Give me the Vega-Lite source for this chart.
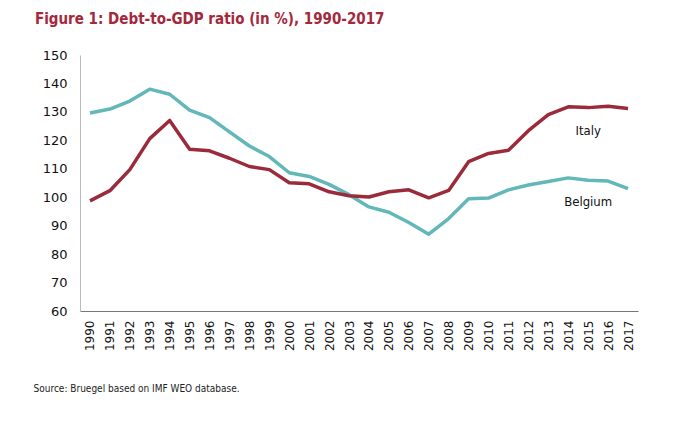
{
  "$schema": "https://vega.github.io/schema/vega-lite/v6.json",
  "autosize": "none",
  "width": 558,
  "height": 256,
  "padding": {"left": 80, "top": 55, "right": 37, "bottom": 131},
  "background": "white",
  "config": {"view": {"stroke": null}},
  "title": {
    "text": "Figure 1: Debt-to-GDP ratio (in %), 1990-2017",
    "anchor": "start",
    "frame": "group",
    "dx": -45,
    "offset": 22,
    "font": "DejaVu Sans Condensed",
    "fontSize": 15,
    "fontWeight": "bold",
    "color": "#a3283c"
  },
  "datasets": {
    "debt": [
      {"year": "1990", "country": "Belgium", "value": 129.6},
      {"year": "1991", "country": "Belgium", "value": 131.0},
      {"year": "1992", "country": "Belgium", "value": 133.8},
      {"year": "1993", "country": "Belgium", "value": 138.0},
      {"year": "1994", "country": "Belgium", "value": 136.2},
      {"year": "1995", "country": "Belgium", "value": 130.6},
      {"year": "1996", "country": "Belgium", "value": 128.0},
      {"year": "1997", "country": "Belgium", "value": 123.0},
      {"year": "1998", "country": "Belgium", "value": 118.0},
      {"year": "1999", "country": "Belgium", "value": 114.3},
      {"year": "2000", "country": "Belgium", "value": 108.6},
      {"year": "2001", "country": "Belgium", "value": 107.3},
      {"year": "2002", "country": "Belgium", "value": 104.5},
      {"year": "2003", "country": "Belgium", "value": 100.9},
      {"year": "2004", "country": "Belgium", "value": 96.6},
      {"year": "2005", "country": "Belgium", "value": 94.7},
      {"year": "2006", "country": "Belgium", "value": 91.1},
      {"year": "2007", "country": "Belgium", "value": 87.0},
      {"year": "2008", "country": "Belgium", "value": 92.5},
      {"year": "2009", "country": "Belgium", "value": 99.5},
      {"year": "2010", "country": "Belgium", "value": 99.7},
      {"year": "2011", "country": "Belgium", "value": 102.6},
      {"year": "2012", "country": "Belgium", "value": 104.3},
      {"year": "2013", "country": "Belgium", "value": 105.5},
      {"year": "2014", "country": "Belgium", "value": 106.8},
      {"year": "2015", "country": "Belgium", "value": 106.0},
      {"year": "2016", "country": "Belgium", "value": 105.7},
      {"year": "2017", "country": "Belgium", "value": 103.0},
      {"year": "1990", "country": "Italy", "value": 98.7},
      {"year": "1991", "country": "Italy", "value": 102.3},
      {"year": "1992", "country": "Italy", "value": 109.7},
      {"year": "1993", "country": "Italy", "value": 120.6},
      {"year": "1994", "country": "Italy", "value": 127.0},
      {"year": "1995", "country": "Italy", "value": 116.9},
      {"year": "1996", "country": "Italy", "value": 116.3},
      {"year": "1997", "country": "Italy", "value": 113.7},
      {"year": "1998", "country": "Italy", "value": 110.8},
      {"year": "1999", "country": "Italy", "value": 109.7},
      {"year": "2000", "country": "Italy", "value": 105.1},
      {"year": "2001", "country": "Italy", "value": 104.7},
      {"year": "2002", "country": "Italy", "value": 101.9},
      {"year": "2003", "country": "Italy", "value": 100.5},
      {"year": "2004", "country": "Italy", "value": 100.1},
      {"year": "2005", "country": "Italy", "value": 101.9},
      {"year": "2006", "country": "Italy", "value": 102.6},
      {"year": "2007", "country": "Italy", "value": 99.8},
      {"year": "2008", "country": "Italy", "value": 102.4},
      {"year": "2009", "country": "Italy", "value": 112.5},
      {"year": "2010", "country": "Italy", "value": 115.4},
      {"year": "2011", "country": "Italy", "value": 116.5},
      {"year": "2012", "country": "Italy", "value": 123.4},
      {"year": "2013", "country": "Italy", "value": 129.0},
      {"year": "2014", "country": "Italy", "value": 131.8},
      {"year": "2015", "country": "Italy", "value": 131.5},
      {"year": "2016", "country": "Italy", "value": 132.0},
      {"year": "2017", "country": "Italy", "value": 131.2}
    ],
    "labels": [
      {"year": "2015", "value": 123.3, "country": "Italy"},
      {"year": "2015", "value": 98.3, "country": "Belgium"}
    ]
  },
  "encoding": {
    "x": {
      "field": "year", "type": "ordinal",
      "scale": {"type": "point", "padding": 0.5},
      "axis": {
        "title": "Source: Bruegel based on IMF WEO database.",
        "titleFont": "DejaVu Sans Condensed",
        "titleFontSize": 10,
        "titleFontWeight": "normal",
        "titleColor": "#222",
        "titleAnchor": "start",
        "titleAlign": "left",
        "titleBaseline": "middle",
        "titleX": -47,
        "titleY": 77,
        "labelAngle": -90,
        "labelAlign": "right",
        "labelBaseline": "middle",
        "labelFont": "DejaVu Sans",
        "labelFontSize": 12,
        "labelColor": "#111",
        "labelPadding": 9,
        "labelOverlap": false,
        "ticks": false,
        "domainColor": "#777",
        "domainWidth": 1.2,
        "grid": false
      }
    },
    "y": {
      "field": "value", "type": "quantitative",
      "scale": {"domain": [60, 150], "nice": false, "zero": false},
      "axis": {
        "title": null,
        "values": [60, 70, 80, 90, 100, 110, 120, 130, 140, 150],
        "tickCount": 10,
        "labelFont": "DejaVu Sans",
        "labelFontSize": 13,
        "labelColor": "#111",
        "labelPadding": 13,
        "labelOverlap": false,
        "labelFlush": false,
        "labelBound": false,
        "ticks": false,
        "domainColor": "#bbb",
        "grid": false
      }
    }
  },
  "layer": [
    {
      "data": {"name": "debt"},
      "mark": {"type": "line", "strokeWidth": 3.5, "strokeJoin": "round"},
      "encoding": {
        "color": {
          "field": "country", "type": "nominal",
          "scale": {"domain": ["Belgium", "Italy"], "range": ["#62b7b9", "#9b2a3b"]},
          "legend": null
        }
      }
    },
    {
      "data": {"name": "labels"},
      "mark": {"type": "text", "font": "DejaVu Sans Condensed", "fontSize": 13, "color": "#111", "align": "center", "baseline": "middle"},
      "encoding": {
        "text": {"field": "country"}
      }
    }
  ]
}
